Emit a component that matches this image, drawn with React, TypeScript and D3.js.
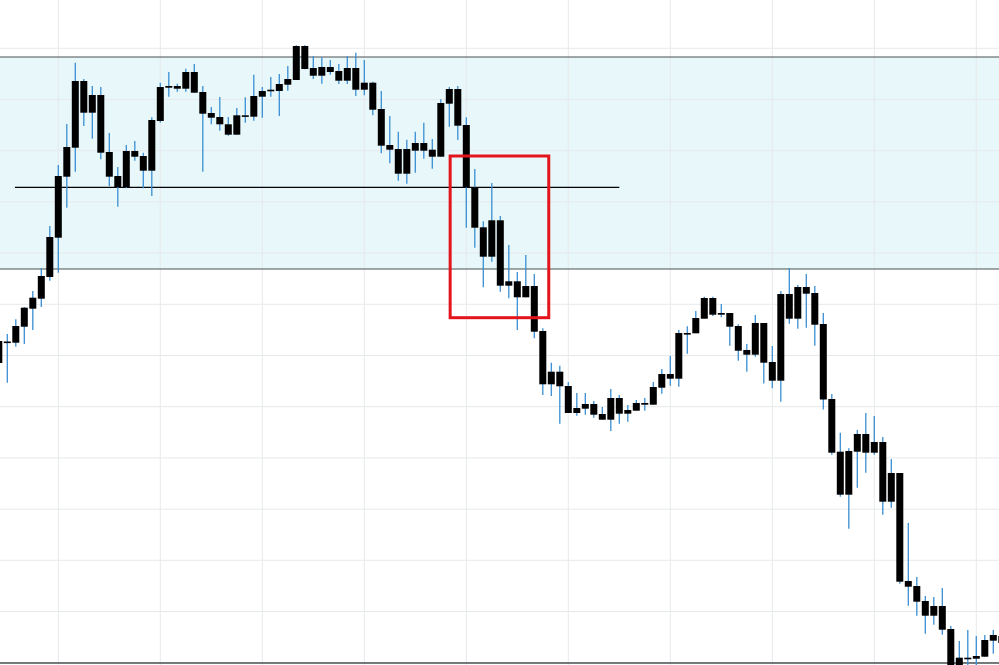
import React from "react";
import * as d3 from "d3";

// Candle OHLC values (price units), one entry per bar, oldest first
const opens = [
  337, 358.5, 357.3, 373.3, 391.3, 401.3, 423, 462.3, 523.3, 552.3,
  619, 587.3, 605, 548, 524, 513, 549, 544, 529.3, 579,
  612.3, 614, 611.3, 628, 608, 587, 583, 575.7, 565.3, 583.3,
  583.3, 603.3, 609.3, 609, 615.3, 620, 654, 632, 624.3, 633,
  629, 619.3, 632, 610.3, 617.3, 591, 555, 551, 526.3, 549.3,
  557, 550.3, 543.3, 596.3, 611, 575, 512.7, 472.7, 443.3, 479.7,
  414.3, 418.7, 402.7, 414, 369, 315.7, 328.3, 314, 287, 291.3,
  296, 286, 280.3, 302, 286.3, 289.3, 295.3, 295.3, 312.3, 326,
  321.3, 366.7, 366.7, 381.3, 402, 385.3, 387, 374, 350, 345.3,
  377, 338, 319.3, 406, 381.3, 413, 407, 376, 301, 248.3,
  205.3, 248.3, 266, 247.3, 258, 198.3, 227, 119, 114, 99,
  84.3, 94, 71, 35, 41.3, 41.3, 43.3, 59.3, 57,
];
const highs = [
  362, 366, 380.7, 393, 409, 431.7, 474, 535, 576, 637.3,
  621, 614, 613, 567, 533, 555, 559, 547.3, 582.7, 617.3,
  628, 616.3, 631.3, 636, 614, 593, 603, 583, 592, 602.7,
  625.3, 613, 623, 626, 634, 654.7, 654.7, 644, 642.7, 640,
  636, 644, 647.3, 640, 618.3, 609, 584, 568.3, 560.3, 568.3,
  577.3, 561, 600.7, 613, 614, 582.7, 531, 478.7, 517, 484,
  455, 428, 445, 426, 371.7, 337.3, 334.3, 318, 307, 307,
  299, 293, 311, 305, 295, 300, 302, 318, 331, 344,
  370, 373.7, 389, 403.3, 403.3, 396, 387, 375.7, 356, 385,
  377, 354, 409, 432, 415, 426, 414, 387, 306, 267.3,
  251.7, 270, 287, 284, 263, 241, 227, 177, 123, 104,
  103, 112, 74, 59, 70, 64, 65, 70, 68,
];
const lows = [
  334, 317.3, 353.3, 356, 370, 393, 419.3, 427.3, 492.3, 528.3,
  574, 561.3, 540.7, 514, 493.3, 511.7, 539.3, 511.7, 504, 577.3,
  603.3, 608.3, 608.3, 607.3, 528.3, 575.7, 569.3, 564.3, 565.3, 577.3,
  579.3, 582.3, 603.3, 584, 609.3, 620, 630.7, 621, 616.3, 625.3,
  616, 616, 604, 604.7, 584.7, 546.7, 536.7, 519.3, 516.3, 527.3,
  541.3, 531.3, 543.3, 573.3, 560, 472.3, 452.3, 412.7, 438.3, 408.3,
  401.7, 370, 402.7, 361.7, 305, 304, 276.3, 287, 284.3, 285.3,
  282.3, 280.3, 269, 276.3, 278.3, 289.3, 289.3, 295.3, 306.3, 314.3,
  313.3, 346.3, 366.7, 381.3, 384, 382.7, 354.3, 339.3, 328.3, 343.3,
  316.5, 311.7, 298.3, 376.3, 371.3, 372.3, 354.3, 290.5, 245.3, 203.3,
  171.3, 212.3, 227.3, 245.3, 185.3, 192.3, 116.3, 94.3, 84.3, 66.3,
  75.3, 65.3, 33, 33, 33, 33, 43.3, 46.3, 54,
];
const closes = [
  359, 358, 374, 392.3, 402.3, 424, 463, 524, 553, 619,
  587.3, 605, 547.3, 523.3, 513, 549, 543.3, 529.3, 580, 613,
  614, 611.3, 628, 607.3, 586.3, 582.3, 575.7, 565.3, 584.7, 584.7,
  604, 609, 610.3, 616, 621, 654, 631, 624.3, 633, 628,
  619.3, 632, 610.3, 617.3, 590.3, 554.3, 550.3, 526.3, 551, 557,
  549.3, 543.3, 597, 611, 574.3, 512.7, 472.3, 443.3, 479.7, 414.3,
  418.7, 402.7, 414, 368.3, 315.7, 328.3, 313.7, 287, 292, 296,
  285.3, 280.3, 302, 286.3, 290, 297, 297, 313, 326, 321.3,
  367, 367, 382, 402, 385.3, 387, 373.3, 349.3, 345.3, 377,
  337.3, 319.3, 406, 381.3, 413, 406.3, 375.3, 300.5, 247.3, 205.3,
  249, 266, 247.3, 258, 198.3, 227, 118.3, 113.3, 98.3, 84.3,
  94, 70.3, 35, 42.3, 42.3, 44, 60, 65, 64,
];

// Price levels of the light grid
const gridLevels = [37.3, 88.5, 139.7, 190.9, 242.1, 293.3, 344.5, 395.7, 446.9, 498.1, 549.3, 600.5, 651.7];
// Vertical grid every 12 bars
const gridBars = [7, 19, 31, 43, 55, 67, 79, 91, 103, 115];

// Zone (shaded band) and marked level
const zoneLow = 431;
const zoneHigh = 643;
const levelValue = 512.7;
const levelFromBar = 1.9;
const levelToBar = 73;
// Highlight box
const boxFromBar = 53.1;
const boxToBar = 64.7;
const boxHigh = 544;
const boxLow = 382.3;
const baseLevel = 37;

const W = 999;
const H = 665;

export default function App() {
  const n = opens.length;
  const x = d3.scaleLinear().domain([0, n - 1]).range([-1.2, -1.2 + 8.5 * (n - 1)]);
  const y = d3.scaleLinear().domain([0, 700]).range([700, 0]);
  const bw = 7;

  return (
    <svg
      width={W}
      height={H}
      style={{ position: "absolute", left: 0, top: 0, background: "#ffffff" }}
    >
      <rect x={0} y={0} width={W} height={H} fill="#ffffff" />
      {/* zone */}
      <rect x={0} y={y(zoneHigh)} width={W} height={y(zoneLow) - y(zoneHigh)} fill="#e8f7fa" />
      {/* grid */}
      {gridLevels.map((g, i) => (
        <line key={"h" + i} x1={0} x2={W} y1={y(g)} y2={y(g)} stroke="#e6e9ea" strokeWidth={1} />
      ))}
      {gridBars.map((b, i) => (
        <line key={"v" + i} x1={x(b)} x2={x(b)} y1={0} y2={H} stroke="#e6e9ea" strokeWidth={1} />
      ))}
      {/* zone borders */}
      <line x1={0} x2={W} y1={y(zoneHigh)} y2={y(zoneHigh)} stroke="#4a5052" strokeWidth={1.2} />
      <line x1={0} x2={W} y1={y(zoneLow)} y2={y(zoneLow)} stroke="#4a5052" strokeWidth={1.2} />
      {/* level line */}
      <line
        x1={x(levelFromBar)}
        x2={x(levelToBar)}
        y1={y(levelValue)}
        y2={y(levelValue)}
        stroke="#000"
        strokeWidth={1.3}
      />
      {/* bottom border */}
      <line x1={0} x2={W} y1={y(baseLevel)} y2={y(baseLevel)} stroke="#4a5052" strokeWidth={1.3} />
      {/* candles */}
      {opens.map((o, i) => {
        const c = closes[i];
        const cx = x(i);
        const top = y(Math.max(o, c));
        const bot = y(Math.min(o, c));
        const h = Math.max(bot - top, 1.6);
        return (
          <g key={i}>
            <line x1={cx} x2={cx} y1={y(highs[i])} y2={y(lows[i])} stroke="#3a8fd3" strokeWidth={1.3} />
            <rect x={cx - bw / 2} y={top} width={bw} height={h} fill="#000" />
          </g>
        );
      })}
      {/* highlight box */}
      <rect
        x={x(boxFromBar)}
        y={y(boxHigh)}
        width={x(boxToBar) - x(boxFromBar)}
        height={y(boxLow) - y(boxHigh)}
        fill="none"
        stroke="#e3141b"
        strokeWidth={3}
      />
    </svg>
  );
}
